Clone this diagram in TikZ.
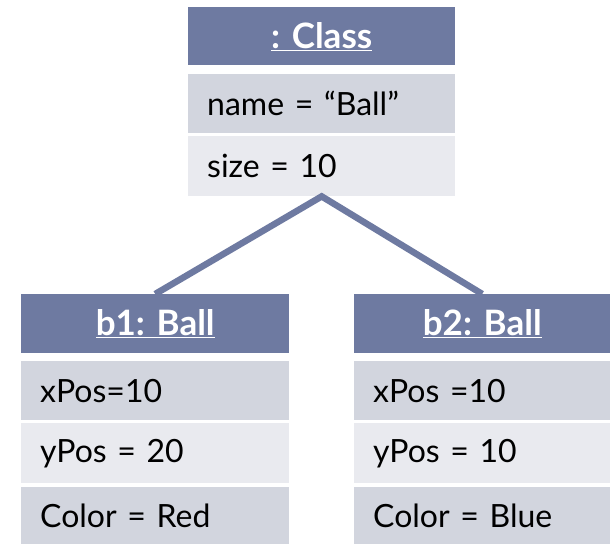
\documentclass[tikz,border=0pt]{standalone}
\usepackage{fontspec}
\setmainfont{Lato}
\frenchspacing
\definecolor{hdr}{RGB}{110,122,161}
\definecolor{rowdark}{RGB}{210,213,222}
\definecolor{rowlight}{RGB}{233,234,239}
\tikzset{
  cell/.style={anchor=north west, rectangle, inner ysep=0pt, inner xsep=19pt,
    font=\fontsize{32}{35}\selectfont, align=left},
  hdrcell/.style={cell, fill=hdr, text=white, align=center,
    font=\fontsize{35}{38}\selectfont\bfseries},
  darkcell/.style={cell, fill=rowdark},
  lightcell/.style={cell, fill=rowlight},
  cellsize/.style 2 args={text width=#1pt-38pt, minimum width=#1pt, minimum height=#2pt},
  link/.style={draw=hdr, line width=6.5pt}
}
\begin{document}
\begin{tikzpicture}[x=1pt,y=-1pt]
\useasboundingbox (0,0) rectangle (610,544);

% object of class Class
\node[hdrcell, cellsize={267}{58}] (cls) at (188,7) {\underline{: Class}};
\node[darkcell, cellsize={267}{59}] (clsname) at (188,74) {name = “Ball”};
\node[lightcell, cellsize={267}{60}] (clssize) at (188,136) {size = 10};

% object b1
\node[hdrcell, cellsize={268}{59}] (bone) at (21,294) {\underline{b1: Ball}};
\node[darkcell, cellsize={268}{59}] (bonex) at (21,361) {xPos=10};
\node[lightcell, cellsize={268}{60}] (boney) at (21,423) {yPos = 20};
\node[darkcell, cellsize={268}{57}] (bonec) at (21,487) {Color = Red};

% object b2
\node[hdrcell, cellsize={256}{59}] (btwo) at (354,294) {\underline{b2: Ball}};
\node[darkcell, cellsize={256}{59}] (btwox) at (354,361) {xPos =10};
\node[lightcell, cellsize={256}{60}] (btwoy) at (354,423) {yPos = 10};
\node[darkcell, cellsize={256}{57}] (btwoc) at (354,487) {Color = Blue};

% instance links
\draw[link] (bone.north) -- (clssize.south) -- (btwo.north);
\end{tikzpicture}
\end{document}
